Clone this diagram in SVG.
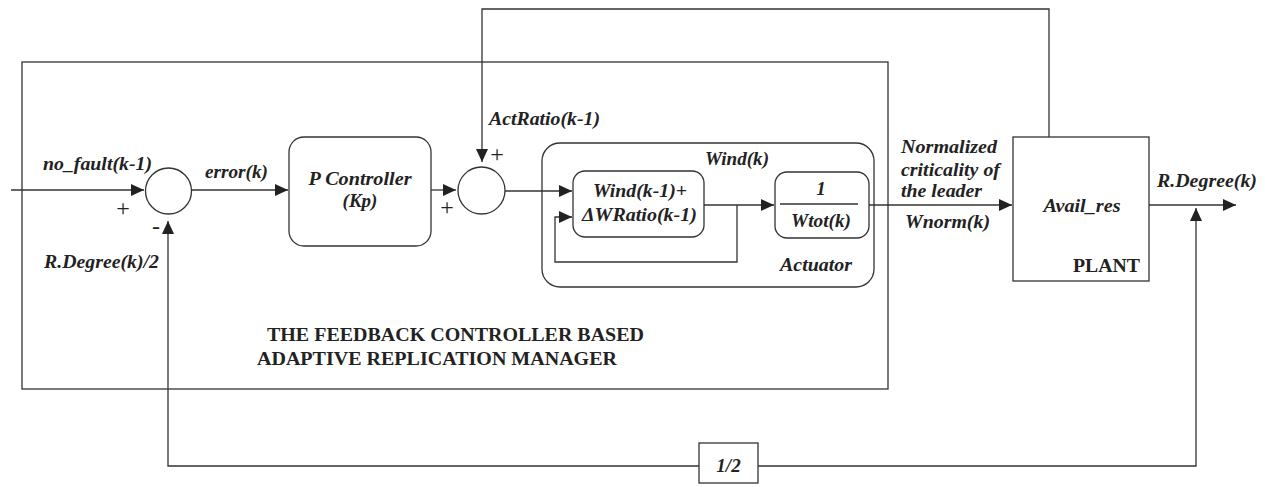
<svg xmlns="http://www.w3.org/2000/svg" width="1265" height="487" viewBox="0 0 1265 487">
<style>
.ln{fill:none;stroke:#333;stroke-width:1.3}
.bx{fill:none;stroke:#333;stroke-width:1.3}
.t{font-family:"Liberation Serif","Times New Roman",serif;font-size:19px;font-weight:bold;font-style:italic;fill:#222}
.u{font-family:"Liberation Serif","Times New Roman",serif;font-size:18px;font-weight:bold;fill:#222}
.s{font-family:"Liberation Serif","Times New Roman",serif;font-size:24px;fill:#222}
.m{text-anchor:middle}
</style>
<defs>
<marker id="ah" markerUnits="userSpaceOnUse" markerWidth="14" markerHeight="12" refX="13" refY="6" orient="auto">
<path d="M0,0 L13,6 L0,12 Z" fill="#222"/>
</marker>
</defs>
<rect width="1265" height="487" fill="#fff"/>

<g id="manager">
<rect class="bx" x="22" y="62" width="866" height="327"/>
<text class="u" x="267" y="341" textLength="377" lengthAdjust="spacingAndGlyphs">THE FEEDBACK CONTROLLER BASED</text>
<text class="u" x="257" y="365" textLength="360" lengthAdjust="spacingAndGlyphs">ADAPTIVE REPLICATION MANAGER</text>
</g>

<g id="sum1">
<circle class="bx" cx="168.5" cy="191" r="23"/>
<text class="s m" x="123" y="216">+</text>
<text class="s m" x="156" y="234">-</text>
</g>

<g id="pcontroller">
<rect class="bx" x="289" y="137" width="142" height="109" rx="15"/>
<text class="t m" x="360" y="185" textLength="103" lengthAdjust="spacingAndGlyphs">P Controller</text>
<text class="t m" x="360" y="207">(Kp)</text>
</g>

<g id="sum2">
<circle class="bx" cx="481.5" cy="190.5" r="23.5"/>
<text class="s m" x="447" y="215">+</text>
<text class="s m" x="497" y="162">+</text>
</g>

<g id="actuator">
<rect class="bx" x="542" y="143" width="332" height="144" rx="18"/>
<text class="t m" x="737" y="165" textLength="64" lengthAdjust="spacingAndGlyphs">Wind(k)</text>
<text class="t" x="780" y="271" textLength="72" lengthAdjust="spacingAndGlyphs">Actuator</text>
</g>

<g id="wind">
<rect class="bx" x="573" y="171" width="131" height="66" rx="12"/>
<text class="t m" x="640" y="197" textLength="94" lengthAdjust="spacingAndGlyphs">Wind(k-1)+</text>
<text class="t m" x="639.5" y="221" textLength="115" lengthAdjust="spacingAndGlyphs">ΔWRatio(k-1)</text>
</g>

<g id="wtot">
<rect class="bx" x="775" y="172" width="94" height="66" rx="12"/>
<text class="t m" x="821" y="195">1</text>
<line class="ln" x1="780" y1="204" x2="858" y2="204"/>
<text class="t m" x="821" y="227" textLength="60" lengthAdjust="spacingAndGlyphs">Wtot(k)</text>
</g>

<g id="plant">
<rect class="bx" x="1013" y="137" width="136" height="144"/>
<text class="t m" x="1082" y="212" textLength="77" lengthAdjust="spacingAndGlyphs">Avail_res</text>
<text class="u" x="1140" y="272" text-anchor="end" textLength="67" lengthAdjust="spacingAndGlyphs">PLANT</text>
</g>

<g id="half">
<rect class="bx" x="699" y="443" width="59" height="40"/>
<text class="t m" x="728.5" y="472">1/2</text>
</g>

<g id="connectors">
<line class="ln" x1="11" y1="190" x2="144" y2="190" marker-end="url(#ah)"/>
<line class="ln" x1="192" y1="190" x2="288" y2="190" marker-end="url(#ah)"/>
<line class="ln" x1="431" y1="190" x2="456" y2="190" marker-end="url(#ah)"/>
<polyline class="ln" points="1049,137 1049,9 482,9 482,162" marker-end="url(#ah)"/>
<line class="ln" x1="505" y1="191" x2="572" y2="191" marker-end="url(#ah)"/>
<line class="ln" x1="704" y1="205" x2="774" y2="205" marker-end="url(#ah)"/>
<polyline class="ln" points="737,205 737,262 555,262 555,217 572,217" marker-end="url(#ah)"/>
<line class="ln" x1="869" y1="205" x2="1012" y2="205" marker-end="url(#ah)"/>
<line class="ln" x1="1149" y1="205" x2="1236" y2="205" marker-end="url(#ah)"/>
<polyline class="ln" points="758,466 1196,466 1196,208" marker-end="url(#ah)"/>
<polyline class="ln" points="699,466 168,466 168,221" marker-end="url(#ah)"/>
<text class="t" x="43" y="170" textLength="109" lengthAdjust="spacingAndGlyphs">no_fault(k-1)</text>
<text class="t" x="44" y="268" textLength="115" lengthAdjust="spacingAndGlyphs">R.Degree(k)/2</text>
<text class="t" x="205" y="178" textLength="63" lengthAdjust="spacingAndGlyphs">error(k)</text>
<text class="t" x="489" y="125" textLength="111" lengthAdjust="spacingAndGlyphs">ActRatio(k-1)</text>
<text class="t" x="901" y="153" textLength="96" lengthAdjust="spacingAndGlyphs">Normalized</text>
<text class="t" x="901" y="176" textLength="99" lengthAdjust="spacingAndGlyphs">criticality of</text>
<text class="t" x="901" y="197" textLength="81" lengthAdjust="spacingAndGlyphs">the leader</text>
<text class="t" x="905" y="228" textLength="85" lengthAdjust="spacingAndGlyphs">Wnorm(k)</text>
<text class="t" x="1157" y="187" textLength="100" lengthAdjust="spacingAndGlyphs">R.Degree(k)</text>
</g>
</svg>
